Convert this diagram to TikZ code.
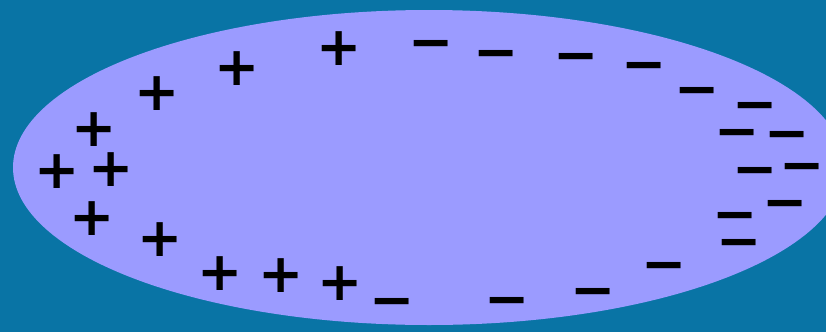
\documentclass[tikz,border=0pt]{standalone}
\usepackage{fontspec}
\usepackage{xcolor}
\newfontfamily\signfont{DejaVu Sans}
\definecolor{seablue}{RGB}{9,116,165}
\definecolor{lilac}{RGB}{155,155,255}

\begin{document}
\begin{tikzpicture}[
        x=1pt, y=-1pt,
        % Styles
        charge/.style={
            font=\signfont\bfseries\fontsize{54}{54}\selectfont,
            text=black, inner sep=0pt,
            anchor=base, yshift=-18.4pt
        }
    ]

        % Background
        \useasboundingbox (0,0) rectangle (826,332);
        \fill[seablue] (0,0) rectangle (826,332);

        % Body
        \fill[lilac] (429,167.5) ellipse [x radius=416pt, y radius=157.5pt];

        % Positive charges
        \node[charge] (p1) at (339,47) {+};
        \node[charge] (p2) at (237,67) {+};
        \node[charge] (p3) at (157,92) {+};
        \node[charge] (p4) at (94,128) {+};
        \node[charge] (p5) at (57,170) {+};
        \node[charge] (p6) at (111,168) {+};
        \node[charge] (p7) at (92,217) {+};
        \node[charge] (p8) at (160,238) {+};
        \node[charge] (p9) at (220,272) {+};
        \node[charge] (p10) at (281,274) {+};
        \node[charge] (p11) at (340,282) {+};

        % Negative charges
        \node[charge] (m1) at (431,42) {−};
        \node[charge] (m2) at (496,52) {−};
        \node[charge] (m3) at (576,55) {−};
        \node[charge] (m4) at (644,64) {−};
        \node[charge] (m5) at (697,89) {−};
        \node[charge] (m6) at (755,104) {−};
        \node[charge] (m7) at (737,131) {−};
        \node[charge] (m8) at (787,133) {−};
        \node[charge] (m9) at (755,169) {−};
        \node[charge] (m10) at (802,165) {−};
        \node[charge] (m11) at (785,202) {−};
        \node[charge] (m12) at (735,214) {−};
        \node[charge] (m13) at (739,241) {−};
        \node[charge] (m14) at (664,264) {−};
        \node[charge] (m15) at (593,290) {−};
        \node[charge] (m16) at (507,299) {−};
        \node[charge] (m17) at (392,300) {−};

    \end{tikzpicture}
\end{document}
